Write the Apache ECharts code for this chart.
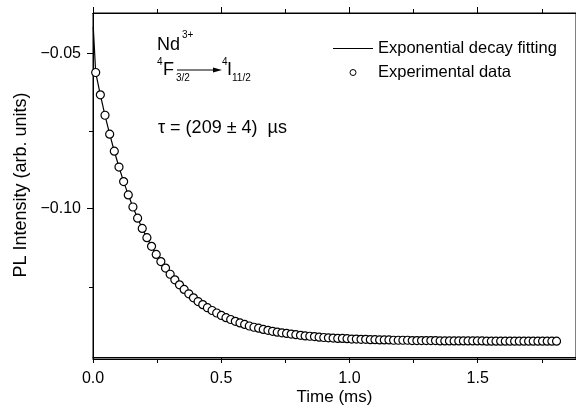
<!DOCTYPE html>
<html>
<head>
<meta charset="utf-8">
<script src="https://cdn.jsdelivr.net/npm/echarts@6/dist/echarts.min.js"></script>
<style>
html,body{margin:0;padding:0;background:#fff;}
#chart{width:576px;height:411px;}
</style>
</head>
<body>
<div id="chart"></div>
<script>
// ---- Data ----
const expTime = [0.0105,0.0287,0.0468,0.0650,0.0831,0.1013,0.1194,0.1376,0.1557,0.1739,
0.1920,0.2102,0.2283,0.2465,0.2646,0.2828,0.3009,0.3191,0.3372,0.3554,
0.3735,0.3917,0.4098,0.4280,0.4461,0.4643,0.4824,0.5006,0.5187,0.5369,
0.5550,0.5732,0.5913,0.6095,0.6276,0.6458,0.6639,0.6821,0.7002,0.7184,
0.7365,0.7547,0.7728,0.7910,0.8091,0.8273,0.8454,0.8636,0.8817,0.8999,
0.9180,0.9362,0.9543,0.9725,0.9906,1.0088,1.0269,1.0451,1.0632,1.0814,
1.0995,1.1177,1.1358,1.1540,1.1721,1.1903,1.2084,1.2266,1.2447,1.2629,
1.2810,1.2992,1.3173,1.3355,1.3536,1.3718,1.3899,1.4081,1.4262,1.4444,
1.4625,1.4807,1.4988,1.5170,1.5351,1.5533,1.5714,1.5896,1.6077,1.6259,
1.6440,1.6622,1.6803,1.6985,1.7166,1.7348,1.7529,1.7711,1.7892,1.8074];
const expIntensity = [-0.0562,-0.0634,-0.0700,-0.0761,-0.0816,-0.0867,-0.0914,-0.0957,-0.0996,-0.1032,
-0.1065,-0.1095,-0.1123,-0.1149,-0.1172,-0.1193,-0.1213,-0.1231,-0.1247,-0.1262,
-0.1276,-0.1289,-0.1301,-0.1311,-0.1321,-0.1330,-0.1338,-0.1346,-0.1353,-0.1359,
-0.1365,-0.1370,-0.1375,-0.1380,-0.1384,-0.1387,-0.1391,-0.1394,-0.1397,-0.1400,
-0.1402,-0.1404,-0.1406,-0.1408,-0.1410,-0.1412,-0.1413,-0.1414,-0.1416,-0.1417,
-0.1418,-0.1419,-0.1420,-0.1420,-0.1421,-0.1422,-0.1422,-0.1423,-0.1423,-0.1424,
-0.1424,-0.1425,-0.1425,-0.1425,-0.1426,-0.1426,-0.1426,-0.1426,-0.1427,-0.1427,
-0.1427,-0.1427,-0.1427,-0.1427,-0.1428,-0.1428,-0.1428,-0.1428,-0.1428,-0.1428,
-0.1428,-0.1428,-0.1428,-0.1428,-0.1429,-0.1429,-0.1429,-0.1429,-0.1429,-0.1429,
-0.1429,-0.1429,-0.1429,-0.1429,-0.1429,-0.1429,-0.1429,-0.1429,-0.1429,-0.1429];
// fit curve: starts at t≈0, then follows the data points
const fitTime = [0.001].concat(expTime);
const fitIntensity = [-0.0415].concat(expIntensity);

const xMajorTicks = [0, 0.5, 1.0, 1.5];
const xMinorTicks = [0.25, 0.75, 1.25, 1.75];
const xTickLabels = ['0.0', '0.5', '1.0', '1.5'];
const yMajorTicks = [-0.10, -0.05];
const yMinorTicks = [-0.125, -0.075];
const yTickLabels = ['\u22120.10', '\u22120.05'];

const seriesNames = ['Exponential decay fitting', 'Experimental data'];

// ---- Chart ----
const FONT = '"Liberation Sans", Arial, Helvetica, sans-serif';
const X_MIN = 0, X_MAX = 1.8833, Y_MIN = -0.148, Y_MAX = -0.037;
function gridPos(withBorder) {
  return {left: 93, right: -1, top: 13, bottom: 52,
    show: withBorder, borderColor: '#000', borderWidth: 1, backgroundColor: 'transparent'};
}

function lbl(ticks, labels) {
  return function (v) {
    for (let i = 0; i < ticks.length; i++) if (Math.abs(ticks[i] - v) < 1e-9) return labels[i];
    return '';
  };
}

function axisLine() { return {show: true, lineStyle: {color: '#000', width: 1}}; }
function xAx(grid, pos, ticks, len, withLabels) {
  return {
    type: 'value', gridIndex: grid, position: pos, min: X_MIN, max: X_MAX,
    axisLine: axisLine(),
    axisTick: {show: true, inside: false, length: len, customValues: ticks, lineStyle: {color: '#000', width: 1}},
    axisLabel: withLabels ? {show: true, customValues: xMajorTicks, formatter: lbl(xMajorTicks, xTickLabels),
      color: '#000', fontFamily: FONT, fontSize: 16, margin: 13, lineHeight: 18} : {show: false},
    splitLine: {show: false}
  };
}

const chart = echarts.init(document.getElementById('chart'), null, {renderer: 'canvas'});
const option = {
  backgroundColor: '#fff',
  animation: false,
  grid: [gridPos(false), gridPos(true)],
  xAxis: [
    Object.assign(xAx(0, 'bottom', xMajorTicks, 6, true), {
      name: 'Time (ms)', nameLocation: 'middle', nameGap: 32, nameMoveOverlap: false,
      nameTextStyle: {color: '#000', fontFamily: FONT, fontSize: 17, lineHeight: 17}
    }),
    xAx(0, 'top', xMajorTicks, 6, false),
    xAx(1, 'bottom', xMinorTicks, 4, false),
    xAx(1, 'top', xMinorTicks, 4, false)
  ],
  yAxis: [
    {
      type: 'value', gridIndex: 0, position: 'left', min: Y_MIN, max: Y_MAX,
      axisLine: axisLine(),
      axisTick: {show: true, inside: false, length: 6, customValues: yMajorTicks, lineStyle: {color: '#000', width: 1}},
      axisLabel: {show: true, customValues: yMajorTicks, formatter: lbl(yMajorTicks, yTickLabels),
        color: '#000', fontFamily: FONT, fontSize: 16, margin: 12},
      splitLine: {show: false},
      name: 'PL Intensity (arb. units)', nameLocation: 'middle', nameGap: 60,
      nameTextStyle: {color: '#000', fontFamily: FONT, fontSize: 18}
    },
    {
      type: 'value', gridIndex: 1, position: 'left', min: Y_MIN, max: Y_MAX,
      axisLine: axisLine(),
      axisTick: {show: true, inside: false, length: 4, customValues: yMinorTicks, lineStyle: {color: '#000', width: 1}},
      axisLabel: {show: false},
      splitLine: {show: false}
    }
  ],
  legend: {
    orient: 'vertical', left: 333, top: 40, padding: 0,
    itemWidth: 40, itemHeight: 6, itemGap: 7, symbolKeepAspect: true,
    textStyle: {color: '#000', fontFamily: FONT, fontSize: 16.5, lineHeight: 17},
    data: [
      {name: seriesNames[0], icon: 'path://M0,0L40,0L40,1.2L0,1.2Z', itemStyle: {color: '#000'}},
      {name: seriesNames[1], icon: 'circle', itemStyle: {color: '#fff', borderColor: '#000', borderWidth: 1}}
    ]
  },
  series: [
    {
      name: seriesNames[0], type: 'line', xAxisIndex: 0, yAxisIndex: 0,
      data: fitTime.map((t, i) => [t, fitIntensity[i]]),
      symbol: 'none', smooth: false,
      lineStyle: {color: '#000', width: 1.2},
      itemStyle: {color: '#000'}, z: 2
    },
    {
      name: seriesNames[1], type: 'scatter', xAxisIndex: 0, yAxisIndex: 0,
      data: expTime.map((t, i) => [t, expIntensity[i]]),
      symbol: 'circle', symbolSize: 8,
      itemStyle: {color: '#fff', borderColor: '#000', borderWidth: 1.2, opacity: 1}, z: 3
    }
  ],
  graphic: [
    {type: 'text', left: 157, top: 36, style: {text: 'Nd', font: '18px ' + FONT, fill: '#000'}},
    {type: 'text', left: 182, top: 30, style: {text: '3+', font: '10px ' + FONT, fill: '#000'}},
    {type: 'text', left: 157, top: 57, style: {text: '4', font: '10px ' + FONT, fill: '#000'}},
    {type: 'text', left: 163, top: 61, style: {text: 'F', font: '18px ' + FONT, fill: '#000'}},
    {type: 'text', left: 176, top: 73, style: {text: '3/2', font: '10px ' + FONT, fill: '#000'}},
    {type: 'line', shape: {x1: 177, y1: 70, x2: 216, y2: 70}, style: {stroke: '#000', lineWidth: 1}},
    {type: 'polygon', shape: {points: [[222, 70], [213, 67.5], [213, 72.5]]}, style: {fill: '#000'}},
    {type: 'text', left: 222, top: 57, style: {text: '4', font: '10px ' + FONT, fill: '#000'}},
    {type: 'text', left: 227, top: 61, style: {text: 'I', font: '18px ' + FONT, fill: '#000'}},
    {type: 'text', left: 232, top: 73, style: {text: '11/2', font: '10px ' + FONT, fill: '#000'}},
    {type: 'text', left: 158, top: 119, style: {text: '\u03c4 = (209 \u00b1 4)  \u00b5s', font: '18px ' + FONT, fill: '#000'}}
  ]
};
chart.setOption(option);
</script>
</body>
</html>
